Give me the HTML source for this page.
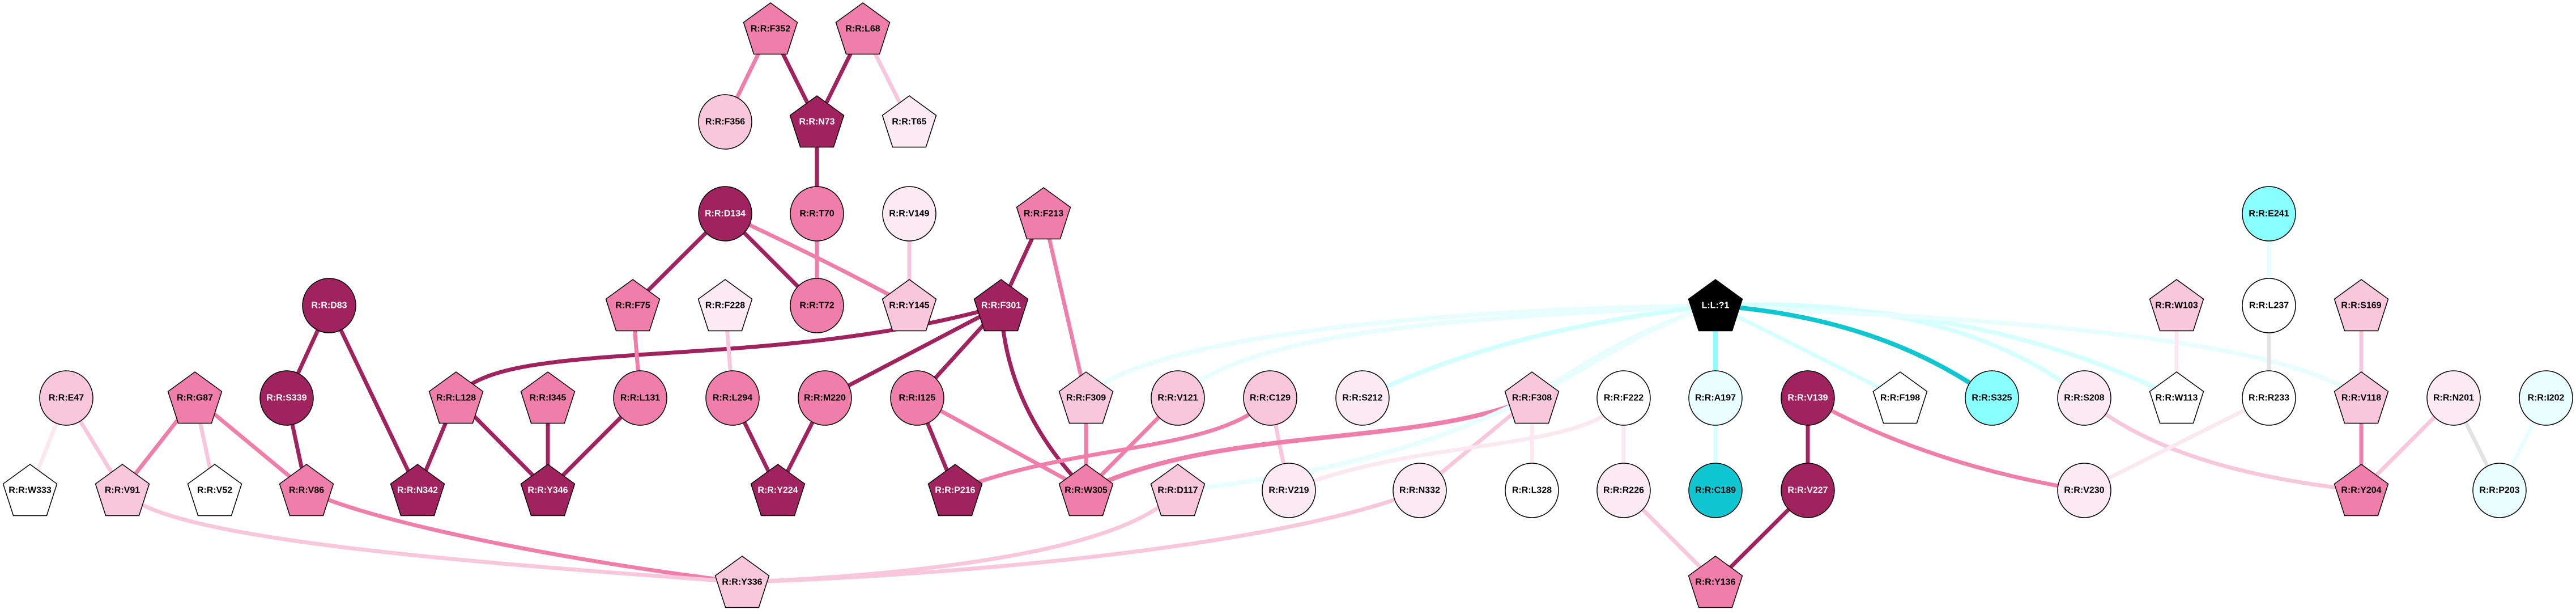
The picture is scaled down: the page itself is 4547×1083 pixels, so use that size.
<!DOCTYPE html>
<html><head><meta charset="utf-8"><style>
html,body{margin:0;padding:0;background:#fff;}
svg{display:block;}
text{font-family:"Liberation Sans",Arial,sans-serif;font-weight:bold;font-size:16px;text-anchor:middle;dominant-baseline:central;}
</style></head><body>
<svg width="4547" height="1083" viewBox="0 0 4547 1083" xmlns="http://www.w3.org/2000/svg">
<defs>
<polygon id="pg" points="0,-48 47.5,-13.5 29.4,42.5 -29.4,42.5 -47.5,-13.5" stroke="#000" stroke-width="1.5"/>
</defs>
<g fill="none" stroke-width="7" stroke-linecap="butt">
<!-- pink edges -->
<line x1="1360" y1="51" x2="1280" y2="215" stroke="#f07eab"/>
<line x1="1360" y1="51" x2="1442" y2="215" stroke="#a0225e"/>
<line x1="1523" y1="51" x2="1442" y2="215" stroke="#a0225e"/>
<line x1="1523" y1="51" x2="1605" y2="215" stroke="#f8c7dc"/>
<line x1="1442" y1="215" x2="1442" y2="377" stroke="#a0225e"/>
<line x1="1442" y1="377" x2="1442" y2="539" stroke="#f07eab"/>
<line x1="1280" y1="377" x2="1117" y2="539" stroke="#a0225e"/>
<line x1="1280" y1="377" x2="1442" y2="539" stroke="#a0225e"/>
<path d="M1280,377 Q1450,455 1605,539" stroke="#f07eab"/>
<line x1="1605" y1="377" x2="1605" y2="539" stroke="#f8c7dc"/>
<line x1="1842" y1="377" x2="1767" y2="539" stroke="#a0225e"/>
<line x1="1842" y1="377" x2="1917" y2="702" stroke="#f07eab"/>
<path d="M805,702 C880,590 1350,660 1767,539" stroke="#a0225e"/>
<line x1="1767" y1="539" x2="1456" y2="702" stroke="#a0225e"/>
<line x1="1767" y1="539" x2="1619" y2="702" stroke="#a0225e"/>
<path d="M1767,539 Q1775,720 1917,865" stroke="#a0225e"/>
<line x1="1117" y1="539" x2="1130" y2="702" stroke="#f07eab"/>
<line x1="1280" y1="539" x2="1293" y2="702" stroke="#f8c7dc"/>
<line x1="581" y1="539" x2="506" y2="702" stroke="#a0225e"/>
<line x1="581" y1="539" x2="737" y2="865" stroke="#a0225e"/>
<line x1="506" y1="702" x2="541" y2="865" stroke="#a0225e"/>
<line x1="117" y1="702" x2="53" y2="865" stroke="#fbe8f0"/>
<line x1="117" y1="702" x2="216" y2="865" stroke="#f8c7dc"/>
<line x1="344" y1="702" x2="216" y2="865" stroke="#f07eab"/>
<line x1="344" y1="702" x2="379" y2="865" stroke="#f8c7dc"/>
<line x1="344" y1="702" x2="541" y2="865" stroke="#f07eab"/>
<line x1="805" y1="702" x2="737" y2="865" stroke="#a0225e"/>
<line x1="805" y1="702" x2="967" y2="865" stroke="#a0225e"/>
<line x1="967" y1="702" x2="967" y2="865" stroke="#a0225e"/>
<line x1="1130" y1="702" x2="967" y2="865" stroke="#a0225e"/>
<line x1="1293" y1="702" x2="1373" y2="865" stroke="#a0225e"/>
<line x1="1456" y1="702" x2="1373" y2="865" stroke="#a0225e"/>
<line x1="1619" y1="702" x2="1686" y2="865" stroke="#a0225e"/>
<line x1="1619" y1="702" x2="1917" y2="865" stroke="#f07eab"/>
<line x1="1917" y1="702" x2="1917" y2="865" stroke="#f07eab"/>
<line x1="2079" y1="702" x2="1917" y2="865" stroke="#f07eab"/>
<path d="M2242,702 C2150,800 1900,780 1686,865" stroke="#f07eab"/>
<line x1="2242" y1="702" x2="2275" y2="865" stroke="#f8c7dc"/>
<path d="M2704,702 C2500,790 2150,750 1917,865" stroke="#f07eab" stroke-width="8"/>
<line x1="2704" y1="702" x2="2506" y2="865" stroke="#f8c7dc"/>
<line x1="2704" y1="702" x2="2704" y2="865" stroke="#fbe8f0"/>
<line x1="2866" y1="702" x2="2866" y2="865" stroke="#fbe8f0"/>
<path d="M2866,702 C2800,800 2500,770 2275,865" stroke="#fbe8f0"/>
<path d="M541,865 C650,920 1000,990 1310,1027" stroke="#f07eab"/>
<path d="M216,865 C280,950 800,990 1310,1027" stroke="#f8c7dc"/>
<path d="M2079,865 C2000,960 1700,1010 1310,1027" stroke="#f8c7dc"/>
<path d="M2506,865 C2300,950 1800,1010 1310,1027" stroke="#f8c7dc"/>
<line x1="2866" y1="865" x2="3028" y2="1027" stroke="#f8c7dc"/>
<!-- cyan edges -->
<path d="M3028,539 C2500,545 2000,600 1917,702" stroke="#e8fefe" stroke-width="8"/>
<path d="M3028,539 C2600,560 2200,580 2079,702" stroke="#e8fefe" stroke-width="8"/>
<path d="M3028,539 Q2650,580 2405,702" stroke="#d2ffff" stroke-width="8"/>
<path d="M3028,539 Q2880,580 2704,702" stroke="#e8fefe" stroke-width="8"/>
<path d="M3028,539 C2800,600 2700,800 2079,865" stroke="#e8fefe" stroke-width="8"/>
<line x1="3028" y1="539" x2="3354" y2="702" stroke="#d6ffff"/>
<path d="M3028,539 Q3450,520 3679,702" stroke="#d6ffff" stroke-width="8"/>
<path d="M3028,539 Q3500,530 3842,702" stroke="#d6ffff" stroke-width="8"/>
<path d="M3028,539 C3400,560 4000,580 4168,702" stroke="#e8fefe" stroke-width="8"/>
<path d="M3028,539 Q3320,560 3516,702" stroke="#10c6d0" stroke-width="8"/>
<line x1="3028" y1="539" x2="3028" y2="702" stroke="#8affff" stroke-width="8"/>
<line x1="3028" y1="702" x2="3028" y2="865" stroke="#d6ffff"/>
<line x1="3191" y1="702" x2="3191" y2="865" stroke="#a0225e"/>
<path d="M3191,702 Q3400,820 3679,865" stroke="#f07eab"/>
<line x1="3191" y1="865" x2="3028" y2="1027" stroke="#a0225e"/>
<path d="M3679,702 Q3830,830 4168,865" stroke="#f8c7dc"/>
<line x1="4005" y1="702" x2="3679" y2="865" stroke="#fbe8f0"/>
<line x1="4005" y1="539" x2="4005" y2="702" stroke="#e3e3e3"/>
<line x1="4005" y1="377" x2="4005" y2="539" stroke="#e8fefe"/>
<line x1="3842" y1="539" x2="3842" y2="702" stroke="#fbe8f0"/>
<line x1="4168" y1="539" x2="4168" y2="702" stroke="#f8c7dc"/>
<line x1="4168" y1="702" x2="4168" y2="865" stroke="#f07eab"/>
<line x1="4331" y1="702" x2="4168" y2="865" stroke="#f8c7dc"/>
<line x1="4331" y1="702" x2="4412" y2="865" stroke="#e3e3e3"/>
<line x1="4494" y1="702" x2="4412" y2="865" stroke="#e8fefe"/>
</g>
<g stroke="#000" stroke-width="1.5">
<!-- row 51 -->
<use href="#pg" x="1360" y="53" fill="#f07eab"/>
<use href="#pg" x="1523" y="53" fill="#f07eab"/>
<!-- row 215 -->
<ellipse cx="1280" cy="215" rx="47" ry="48" fill="#f8c7dc"/>
<use href="#pg" x="1442" y="217" fill="#a0225e"/>
<use href="#pg" x="1605" y="217" fill="#fbeaf2"/>
<!-- row 377 -->
<ellipse cx="1280" cy="377" rx="47" ry="48" fill="#a0225e"/>
<ellipse cx="1442" cy="377" rx="47" ry="48" fill="#f07eab"/>
<ellipse cx="1605" cy="377" rx="47" ry="48" fill="#fbeaf2"/>
<use href="#pg" x="1842" y="379" fill="#f07eab"/>
<ellipse cx="4005" cy="377" rx="47" ry="48" fill="#8affff"/>
<!-- row 539 -->
<ellipse cx="581" cy="539" rx="47" ry="48" fill="#a0225e"/>
<use href="#pg" x="1117" y="541" fill="#f07eab"/>
<use href="#pg" x="1280" y="541" fill="#fbeaf2"/>
<ellipse cx="1442" cy="539" rx="47" ry="48" fill="#f07eab"/>
<use href="#pg" x="1605" y="541" fill="#f8c7dc"/>
<use href="#pg" x="1767" y="541" fill="#a0225e"/>
<use href="#pg" x="3028" y="541" fill="#000"/>
<use href="#pg" x="3842" y="541" fill="#f8c7dc"/>
<ellipse cx="4005" cy="539" rx="47" ry="48" fill="#fff"/>
<use href="#pg" x="4168" y="541" fill="#f8c7dc"/>
<!-- row 702 -->
<ellipse cx="117" cy="702" rx="47" ry="48" fill="#f8c7dc"/>
<use href="#pg" x="344" y="704" fill="#f07eab"/>
<ellipse cx="506" cy="702" rx="47" ry="48" fill="#a0225e"/>
<use href="#pg" x="805" y="704" fill="#f07eab"/>
<use href="#pg" x="967" y="704" fill="#f07eab"/>
<ellipse cx="1130" cy="702" rx="47" ry="48" fill="#f07eab"/>
<ellipse cx="1293" cy="702" rx="47" ry="48" fill="#f07eab"/>
<ellipse cx="1456" cy="702" rx="47" ry="48" fill="#f07eab"/>
<ellipse cx="1619" cy="702" rx="47" ry="48" fill="#f07eab"/>
<use href="#pg" x="1917" y="704" fill="#f8c7dc"/>
<ellipse cx="2079" cy="702" rx="47" ry="48" fill="#f8c7dc"/>
<ellipse cx="2242" cy="702" rx="47" ry="48" fill="#f8c7dc"/>
<ellipse cx="2405" cy="702" rx="47" ry="48" fill="#fbeaf2"/>
<use href="#pg" x="2704" y="704" fill="#f8c7dc"/>
<ellipse cx="2866" cy="702" rx="47" ry="48" fill="#fff"/>
<ellipse cx="3028" cy="702" rx="47" ry="48" fill="#e9fefe"/>
<ellipse cx="3191" cy="702" rx="47" ry="48" fill="#a0225e"/>
<use href="#pg" x="3354" y="704" fill="#fff"/>
<ellipse cx="3516" cy="702" rx="47" ry="48" fill="#8affff"/>
<ellipse cx="3679" cy="702" rx="47" ry="48" fill="#fbeaf2"/>
<use href="#pg" x="3842" y="704" fill="#fff"/>
<ellipse cx="4005" cy="702" rx="47" ry="48" fill="#fff"/>
<use href="#pg" x="4168" y="704" fill="#f8c7dc"/>
<ellipse cx="4331" cy="702" rx="47" ry="48" fill="#fbeaf2"/>
<ellipse cx="4494" cy="702" rx="47" ry="48" fill="#e9fefe"/>
<!-- row 865 -->
<use href="#pg" x="53" y="867" fill="#fff"/>
<use href="#pg" x="216" y="867" fill="#f8c7dc"/>
<use href="#pg" x="379" y="867" fill="#fff"/>
<use href="#pg" x="541" y="867" fill="#f07eab"/>
<use href="#pg" x="737" y="867" fill="#a0225e"/>
<use href="#pg" x="967" y="867" fill="#a0225e"/>
<use href="#pg" x="1373" y="867" fill="#a0225e"/>
<use href="#pg" x="1686" y="867" fill="#a0225e"/>
<use href="#pg" x="1917" y="867" fill="#f07eab"/>
<use href="#pg" x="2079" y="867" fill="#f8c7dc"/>
<ellipse cx="2275" cy="865" rx="47" ry="48" fill="#fbeaf2"/>
<ellipse cx="2506" cy="865" rx="47" ry="48" fill="#fbeaf2"/>
<ellipse cx="2704" cy="865" rx="47" ry="48" fill="#fff"/>
<ellipse cx="2866" cy="865" rx="47" ry="48" fill="#fbeaf2"/>
<ellipse cx="3028" cy="865" rx="47" ry="48" fill="#10c6d0"/>
<ellipse cx="3191" cy="865" rx="47" ry="48" fill="#a0225e"/>
<ellipse cx="3679" cy="865" rx="47" ry="48" fill="#fbeaf2"/>
<use href="#pg" x="4168" y="867" fill="#f07eab"/>
<ellipse cx="4412" cy="865" rx="47" ry="48" fill="#e9fefe"/>
<!-- row 1027 -->
<use href="#pg" x="1310" y="1029" fill="#f8c7dc"/>
<use href="#pg" x="3028" y="1029" fill="#f07eab"/>
</g>
<g fill="#000">
<text x="1360" y="51">R:R:F352</text>
<text x="1523" y="51">R:R:L68</text>
<text x="1280" y="215">R:R:F356</text>
<text x="1442" y="215" fill="#fff">R:R:N73</text>
<text x="1605" y="215">R:R:T65</text>
<text x="1280" y="377" fill="#fff">R:R:D134</text>
<text x="1442" y="377">R:R:T70</text>
<text x="1605" y="377">R:R:V149</text>
<text x="1842" y="377">R:R:F213</text>
<text x="4005" y="377">R:R:E241</text>
<text x="581" y="539" fill="#fff">R:R:D83</text>
<text x="1117" y="539">R:R:F75</text>
<text x="1280" y="539">R:R:F228</text>
<text x="1442" y="539">R:R:T72</text>
<text x="1605" y="539">R:R:Y145</text>
<text x="1767" y="539" fill="#fff">R:R:F301</text>
<text x="3028" y="539" fill="#fff">L:L:?1</text>
<text x="3842" y="539">R:R:W103</text>
<text x="4005" y="539">R:R:L237</text>
<text x="4168" y="539">R:R:S169</text>
<text x="117" y="702">R:R:E47</text>
<text x="344" y="702">R:R:G87</text>
<text x="506" y="702" fill="#fff">R:R:S339</text>
<text x="805" y="702">R:R:L128</text>
<text x="967" y="702">R:R:I345</text>
<text x="1130" y="702">R:R:L131</text>
<text x="1293" y="702">R:R:L294</text>
<text x="1456" y="702">R:R:M220</text>
<text x="1619" y="702">R:R:I125</text>
<text x="1917" y="702">R:R:F309</text>
<text x="2079" y="702">R:R:V121</text>
<text x="2242" y="702">R:R:C129</text>
<text x="2405" y="702">R:R:S212</text>
<text x="2704" y="702">R:R:F308</text>
<text x="2866" y="702">R:R:F222</text>
<text x="3028" y="702">R:R:A197</text>
<text x="3191" y="702" fill="#fff">R:R:V139</text>
<text x="3354" y="702">R:R:F198</text>
<text x="3516" y="702">R:R:S325</text>
<text x="3679" y="702">R:R:S208</text>
<text x="3842" y="702">R:R:W113</text>
<text x="4005" y="702">R:R:R233</text>
<text x="4168" y="702">R:R:V118</text>
<text x="4331" y="702">R:R:N201</text>
<text x="4494" y="702">R:R:I202</text>
<text x="53" y="865">R:R:W333</text>
<text x="216" y="865">R:R:V91</text>
<text x="379" y="865">R:R:V52</text>
<text x="541" y="865">R:R:V86</text>
<text x="737" y="865" fill="#fff">R:R:N342</text>
<text x="967" y="865" fill="#fff">R:R:Y346</text>
<text x="1373" y="865" fill="#fff">R:R:Y224</text>
<text x="1686" y="865" fill="#fff">R:R:P216</text>
<text x="1917" y="865">R:R:W305</text>
<text x="2079" y="865">R:R:D117</text>
<text x="2275" y="865">R:R:V219</text>
<text x="2506" y="865">R:R:N332</text>
<text x="2704" y="865">R:R:L328</text>
<text x="2866" y="865">R:R:R226</text>
<text x="3028" y="865">R:R:C189</text>
<text x="3191" y="865" fill="#fff">R:R:V227</text>
<text x="3679" y="865">R:R:V230</text>
<text x="4168" y="865">R:R:Y204</text>
<text x="4412" y="865">R:R:P203</text>
<text x="1310" y="1027">R:R:Y336</text>
<text x="3028" y="1027">R:R:Y136</text>
</g>
</svg>
</body></html>
